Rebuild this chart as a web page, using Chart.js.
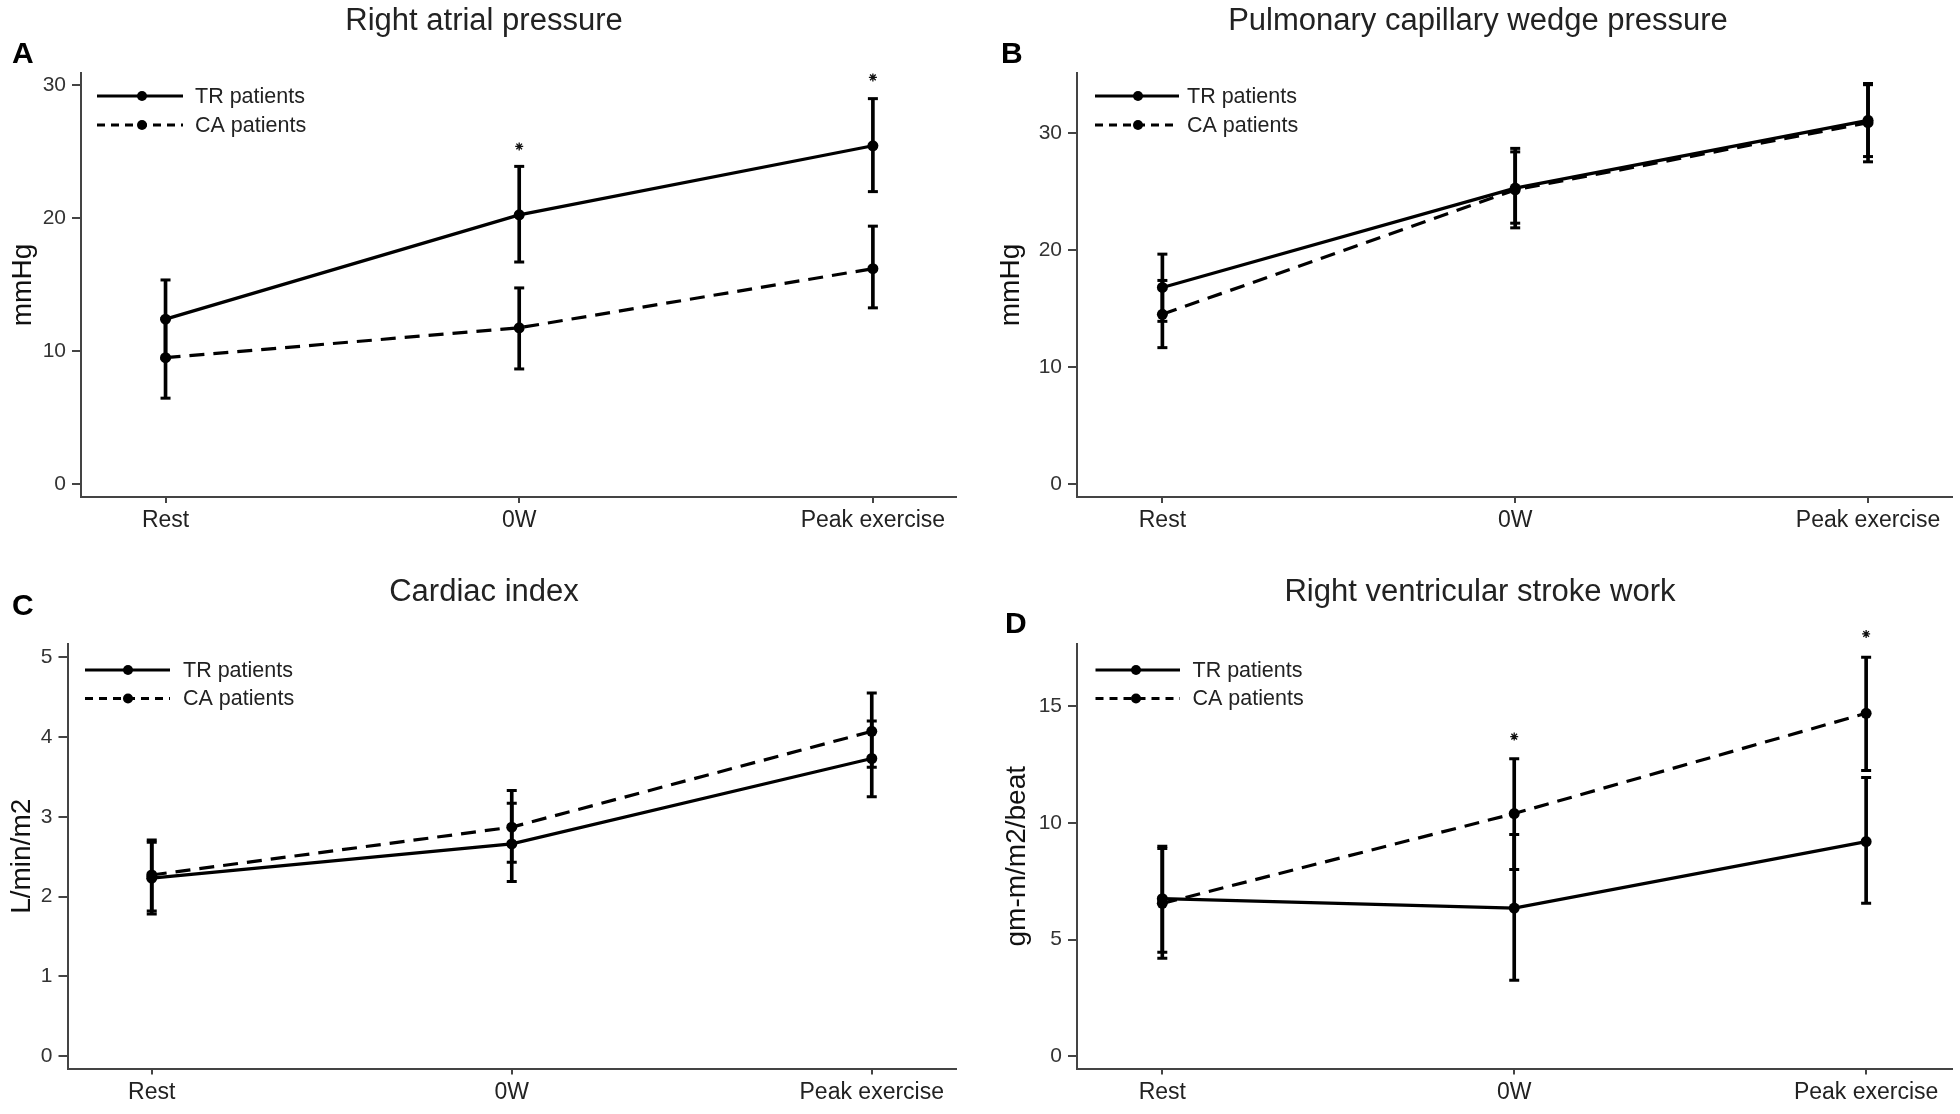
<!DOCTYPE html>
<html>
<head>
<meta charset="utf-8">
<script src="https://cdn.jsdelivr.net/npm/chart.js@4.4.1/dist/chart.umd.min.js"></script>
<style>
  html, body { margin: 0; padding: 0; background: #ffffff; width: 1960px; height: 1114px; overflow: hidden; }
  canvas { position: absolute; }
</style>
</head>
<body>
<canvas id="panelA" width="980" height="557" style="left:0px;top:0px"></canvas>
<canvas id="panelB" width="980" height="557" style="left:980px;top:0px"></canvas>
<canvas id="panelC" width="980" height="557" style="left:0px;top:557px"></canvas>
<canvas id="panelD" width="980" height="557" style="left:980px;top:557px"></canvas>
<script>
// ---------------- DATA ----------------
const categories = ['Rest', '0W', 'Peak exercise'];
const seriesNames = ['TR patients', 'CA patients'];

// A: Right atrial pressure (mmHg)
const rapTitle = 'Right atrial pressure';
const rapYLabel = 'mmHg';
const rapTicks = [0, 10, 20, 30];
const rapTR = [12.4, 20.25, 25.45];
const rapTRUpper = [15.35, 23.9, 29.0];
const rapTRLower = [9.45, 16.7, 22.0];
const rapCA = [9.5, 11.75, 16.2];
const rapCAUpper = [12.45, 14.75, 19.4];
const rapCALower = [6.45, 8.65, 13.25];
const rapStars = [null, 25.4, 30.6];

// B: Pulmonary capillary wedge pressure (mmHg)
const pcwpTitle = 'Pulmonary capillary wedge pressure';
const pcwpYLabel = 'mmHg';
const pcwpTicks = [0, 10, 20, 30];
const pcwpTR = [16.8, 25.3, 31.1];
const pcwpTRUpper = [19.65, 28.7, 34.15];
const pcwpTRLower = [13.9, 21.9, 28.0];
const pcwpCA = [14.5, 25.15, 30.9];
const pcwpCAUpper = [17.4, 28.4, 34.25];
const pcwpCALower = [11.65, 22.3, 27.55];
const pcwpStars = [null, null, null];

// C: Cardiac index (L/min/m2)
const ciTitle = 'Cardiac index';
const ciYLabel = 'L/min/m2';
const ciTicks = [0, 1, 2, 3, 4, 5];
const ciTR = [2.23, 2.66, 3.73];
const ciTRUpper = [2.68, 3.17, 4.20];
const ciTRLower = [1.78, 2.19, 3.25];
const ciCA = [2.27, 2.87, 4.07];
const ciCAUpper = [2.71, 3.33, 4.55];
const ciCALower = [1.82, 2.43, 3.62];
const ciStars = [null, null, null];

// D: Right ventricular stroke work (gm-m/m2/beat)
const rvswTitle = 'Right ventricular stroke work';
const rvswYLabel = 'gm-m/m2/beat';
const rvswTicks = [0, 5, 10, 15];
const rvswTR = [6.75, 6.35, 9.2];
const rvswTRUpper = [9.0, 9.5, 11.95];
const rvswTRLower = [4.45, 3.25, 6.55];
const rvswCA = [6.55, 10.4, 14.7];
const rvswCAUpper = [8.9, 12.75, 17.1];
const rvswCALower = [4.2, 8.0, 12.25];
const rvswStars = [null, 13.7, 18.1];

// ---------------- STYLE / LAYOUT ----------------
const FONT = '"Liberation Sans", Arial, Helvetica, sans-serif';
const INK = '#000000';
const AXIS = '#444444';

const layoutA = { pl: 12, pr: 24, yw: 69, xh: 60, xmin: -0.239, xmax: 2.235, ymin: -0.99, ymax: 30.93,
  tpt: 5.5, tpb: 0, spt: 3.5, spb: 3, ytp: -3, leg: { top: 23, step: 29, x0: 16, x1: 102, dot: 61, text: 114 } };
const layoutB = { pl: 21, pr: 5, yw: 76, xh: 60, xmin: -0.242, xmax: 2.238, ymin: -1.13, ymax: 35.15,
  tpt: 5.5, tpb: 0, spt: 3.5, spb: 3, ytp: -4, leg: { top: 23, step: 29, x0: 18, x1: 102, dot: 61, text: 110 } };
const layoutC = { pl: 12, pr: 24, yw: 55.5, xh: 45.5, xmin: -0.234, xmax: 2.234, ymin: -0.155, ymax: 5.165,
  tpt: 19.5, tpb: -15.5, spt: 0, spb: 22, ytp: -4, leg: { top: 26, step: 28.5, x0: 17.5, x1: 102.5, dot: 60.5, text: 115.5 } };
const layoutD = { pl: 25, pr: 5, yw: 72, xh: 45.5, xmin: -0.2424, xmax: 2.244, ymin: -0.53, ymax: 17.67,
  tpt: 19.5, tpb: 0, spt: 2, spb: 4.5, ytp: -1.5, leg: { top: 26, step: 28.5, x0: 18.5, x1: 103, dot: 59, text: 115.5 } };

// custom in-plot legend (line + dot + label), drawn from the two line datasets
const seriesLegend = {
  id: 'seriesLegend',
  afterDatasetsDraw(chart, args, o) {
    const { ctx, chartArea } = chart;
    ctx.save();
    [0, 1].forEach(i => {
      const ds = chart.data.datasets[i];
      const y = chartArea.top + o.top + i * o.step;
      ctx.strokeStyle = ds.borderColor;
      ctx.lineWidth = 3;
      ctx.setLineDash(ds.borderDash && ds.borderDash.length ? [8, 6] : []);
      ctx.beginPath();
      ctx.moveTo(chartArea.left + o.x0, y);
      ctx.lineTo(chartArea.left + o.x1, y);
      ctx.stroke();
      ctx.setLineDash([]);
      ctx.fillStyle = ds.pointBackgroundColor;
      ctx.beginPath();
      ctx.arc(chartArea.left + o.dot, y, 5, 0, Math.PI * 2);
      ctx.fill();
      ctx.font = '21.5px ' + FONT;
      ctx.textBaseline = 'middle';
      ctx.textAlign = 'left';
      ctx.fillStyle = '#222222';
      ctx.fillText(ds.label, chartArea.left + o.text, y + 1);
    });
    ctx.restore();
  }
};

// significance marks that sit above the plot area: Chart.js skips points outside
// the chart area, so re-draw those elements (positions computed by the y scale).
const outsideMarks = {
  id: 'outsideMarks',
  afterDatasetsDraw(chart) {
    const area = chart.chartArea;
    const wide = { left: -10000, top: -10000, right: 10000, bottom: 10000 };
    chart.data.datasets.forEach((ds, i) => {
      if (!ds.sigMarks) return;
      chart.getDatasetMeta(i).data.forEach(el => {
        const m = (el.options.radius || 0) + (el.options.borderWidth || 0);
        if (el.y < area.top - m || el.y > area.bottom + m) el.draw(chart.ctx, wide);
      });
    });
  }
};

function pts(arr) {
  const out = [];
  arr.forEach((v, i) => { if (v !== null && v !== undefined) out.push({ x: i, y: v }); });
  return out;
}
function whiskers(lo, hi) { return lo.map((v, i) => ({ x: i, y: [lo[i], hi[i]] })); }

function buildPanel(canvasId, letter, title, yLabel, ticks, tr, trU, trL, ca, caU, caL, stars, L) {
  const datasets = [
    { type: 'line', label: seriesNames[0], data: pts(tr), borderColor: INK, backgroundColor: INK,
      borderWidth: 3.2, pointRadius: 5.5, pointBackgroundColor: INK, pointBorderWidth: 0, tension: 0, fill: false, order: 1 },
    { type: 'line', label: seriesNames[1], data: pts(ca), borderColor: INK, backgroundColor: INK, borderDash: [15, 9],
      borderWidth: 3.2, pointRadius: 5.5, pointBackgroundColor: INK, pointBorderWidth: 0, tension: 0, fill: false, order: 1 },
    { type: 'bar', label: 'TR range', data: whiskers(trL, trU), backgroundColor: INK, borderWidth: 0,
      barThickness: 3, grouped: false, order: 2 },
    { type: 'bar', label: 'CA range', data: whiskers(caL, caU), backgroundColor: INK, borderWidth: 0,
      barThickness: 3, grouped: false, order: 2 },
    { type: 'scatter', label: 'TR caps', data: pts(trL).concat(pts(trU)), pointStyle: 'line', pointRadius: 5,
      borderColor: INK, borderWidth: 3, showLine: false, order: 2 },
    { type: 'scatter', label: 'CA caps', data: pts(caL).concat(pts(caU)), pointStyle: 'line', pointRadius: 5,
      borderColor: INK, borderWidth: 3, showLine: false, order: 2 }
  ];
  const starPts = pts(stars);
  if (starPts.length) {
    datasets.push({ type: 'scatter', label: 'p<0.05', data: starPts, pointStyle: 'star', pointRadius: 4,
      borderColor: '#111111', borderWidth: 1.3, showLine: false, clip: false, order: 0, sigMarks: true });
  }

  return new Chart(document.getElementById(canvasId), {
    type: 'line',
    data: { datasets },
    plugins: [seriesLegend, outsideMarks],
    options: {
      responsive: false,
      animation: false,
      events: [],
      layout: { padding: { left: L.pl, right: L.pr, top: 0, bottom: 0 } },
      scales: {
        x: {
          type: 'linear', min: L.xmin, max: L.xmax, offset: false,
          afterBuildTicks: s => { s.ticks = categories.map((c, i) => ({ value: i })); },
          afterFit: s => { s.height = L.xh; },
          ticks: { callback: v => categories[v], font: { family: FONT, size: 23 }, color: '#222222',
            padding: 4, maxRotation: 0, autoSkip: false },
          grid: { display: true, offset: false, drawOnChartArea: false, drawTicks: true, tickLength: 6, color: AXIS, lineWidth: 2 },
          border: { display: true, color: AXIS, width: 2 }
        },
        y: {
          type: 'linear', min: L.ymin, max: L.ymax, offset: false,
          afterBuildTicks: s => { s.ticks = ticks.map(v => ({ value: v })); },
          afterFit: s => { s.width = L.yw; },
          ticks: { font: { family: FONT, size: 21 }, color: '#333333', padding: 6 },
          grid: { display: true, offset: false, drawOnChartArea: false, drawTicks: true, tickLength: 9, color: AXIS, lineWidth: 2 },
          border: { display: true, color: AXIS, width: 2 },
          title: { display: true, text: yLabel, font: { family: FONT, size: 28, lineHeight: 1 }, color: '#111111',
            padding: { top: L.ytp, bottom: 0 } }
        }
      },
      plugins: {
        legend: { display: false },
        tooltip: { enabled: false },
        title: { display: true, text: title, font: { family: FONT, size: 31, weight: 'normal', lineHeight: 1 },
          color: '#222222', padding: { top: L.tpt, bottom: L.tpb } },
        subtitle: { display: true, text: letter, align: 'start', font: { family: FONT, size: 30, weight: 'bold', lineHeight: 1 },
          color: '#000000', padding: { top: L.spt, bottom: L.spb } },
        seriesLegend: L.leg
      }
    }
  });
}

buildPanel('panelA', 'A', rapTitle, rapYLabel, rapTicks, rapTR, rapTRUpper, rapTRLower, rapCA, rapCAUpper, rapCALower, rapStars, layoutA);
buildPanel('panelB', 'B', pcwpTitle, pcwpYLabel, pcwpTicks, pcwpTR, pcwpTRUpper, pcwpTRLower, pcwpCA, pcwpCAUpper, pcwpCALower, pcwpStars, layoutB);
buildPanel('panelC', 'C', ciTitle, ciYLabel, ciTicks, ciTR, ciTRUpper, ciTRLower, ciCA, ciCAUpper, ciCALower, ciStars, layoutC);
buildPanel('panelD', 'D', rvswTitle, rvswYLabel, rvswTicks, rvswTR, rvswTRUpper, rvswTRLower, rvswCA, rvswCAUpper, rvswCALower, rvswStars, layoutD);
</script>
</body>
</html>
